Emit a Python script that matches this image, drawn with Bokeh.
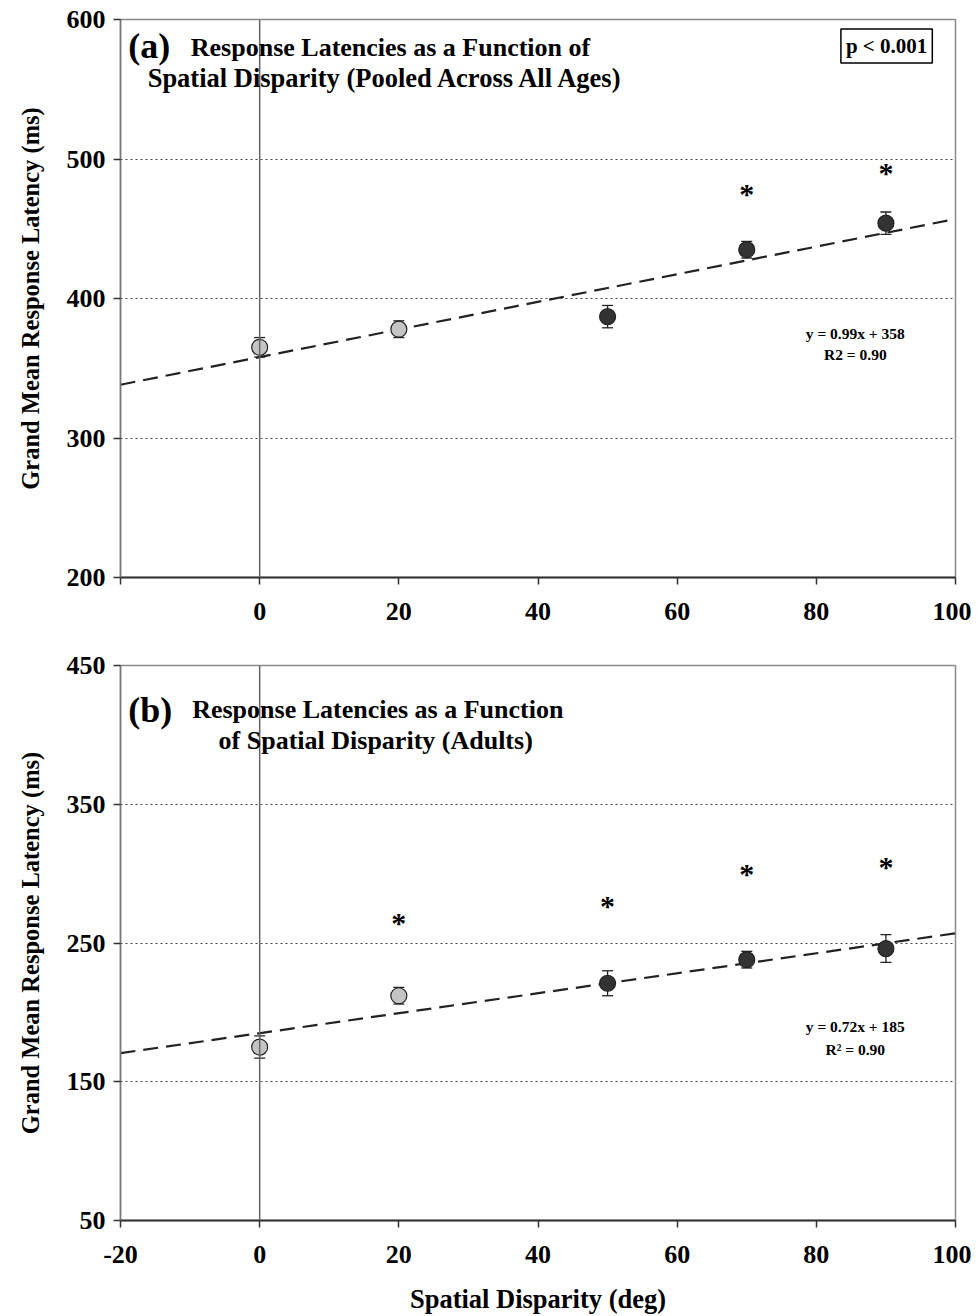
from bokeh.plotting import figure
from bokeh.models import ColumnDataSource, Whisker, Span, Label, FixedTicker, TeeHead
from bokeh.layouts import column
from bokeh.embed import file_html
from bokeh.resources import INLINE
from bokeh.core.properties import value

# ---------------- data ----------------
disparity = [0, 20, 50, 70, 90]

a_latency = [365, 378, 387, 435, 454]
a_err = [7, 6, 8, 6, 8]
a_star_x = [70, 90]
a_star_y = [475, 490]
a_slope, a_intercept = 0.99, 358
a_eq = ["y = 0.99x + 358", "R2 = 0.90"]

b_latency = [175, 212, 221, 238, 246]
b_err = [8, 6, 9, 6, 10]
b_star_x = [20, 50, 70, 90]
b_star_y = [265, 277, 300, 305]
b_slope, b_intercept = 0.72, 185
b_eq = ["y = 0.72x + 185", "R\u00b2 = 0.90"]

x_ticks = [-20, 0, 20, 40, 60, 80, 100]
a_y_ticks = [200, 300, 400, 500, 600]
b_y_ticks = [50, 150, 250, 350, 450]
fit_x = [-20, 100]

# ---------------- style ----------------
FONT = "Liberation Serif"
LIGHT = "#c4c4c4"
DARK = "#333333"
fills = [LIGHT, LIGHT, DARK, DARK, DARK]


def make_panel(lat, err, sx, sy, slope, icpt, yticks, height, top, bottom,
               show_first_x, xlabel):
    ymin, ymax = yticks[0], yticks[-1]
    p = figure(frame_width=835, frame_height=height - top - bottom,
               x_range=(x_ticks[0], x_ticks[-1]), y_range=(ymin, ymax),
               output_backend="svg", toolbar_location=None,
               min_border_left=120, min_border_right=16,
               min_border_top=top, min_border_bottom=bottom)
    p.background_fill_color = "white"
    p.border_fill_color = "white"
    p.outline_line_color = "#8a8a8a"
    p.outline_line_width = 1.5

    # grid
    p.xgrid.visible = False
    p.ygrid.ticker = FixedTicker(ticks=yticks)
    p.ygrid.grid_line_color = "#444444"
    p.ygrid.grid_line_dash = "2 3"
    p.ygrid.grid_line_width = 1.2

    # axes
    p.xaxis.ticker = FixedTicker(ticks=x_ticks)
    p.yaxis.ticker = FixedTicker(ticks=yticks)
    if show_first_x:
        p.xaxis.major_label_overrides = {x_ticks[0]: str(x_ticks[0])}
    else:
        p.xaxis.major_label_overrides = {x_ticks[0]: ""}
    for ax in (p.xaxis[0], p.yaxis[0]):
        ax.major_label_text_font = FONT
        ax.major_label_text_font_style = "bold"
        ax.major_label_text_font_size = "26px"
        ax.major_label_text_color = "black"
        ax.minor_tick_line_color = None
        ax.major_tick_in = 0
        ax.major_tick_out = 7
        ax.major_tick_line_color = "#333333"
        ax.major_tick_line_width = 1.5
        ax.axis_label_text_font = FONT
        ax.axis_label_text_font_style = "bold"
        ax.axis_label_text_color = "black"
    p.xaxis.axis_line_color = "#333333"
    p.xaxis.axis_line_width = 2
    p.yaxis.axis_line_color = "#777777"
    p.yaxis.axis_line_width = 1.5
    p.xaxis.major_label_standoff = 18
    p.yaxis.major_label_standoff = 8
    p.yaxis.axis_label = "Grand Mean Response Latency (ms)"
    p.yaxis.axis_label_text_font_size = "24.5px"
    p.yaxis.axis_label_standoff = 20
    if xlabel:
        p.xaxis.axis_label = xlabel
        p.xaxis.axis_label_text_font_size = "26.5px"
        p.xaxis.axis_label_standoff = 18

    # vertical line at x = 0
    p.add_layout(Span(location=0, dimension="height", line_color="#666666",
                      line_width=1.5))

    # fitted trend line
    fit_y = [slope * x + icpt for x in fit_x]
    p.line(fit_x, fit_y, line_color="#222222", line_width=2.2, line_dash="15 8")

    # error bars and points
    src = ColumnDataSource(dict(x=disparity, y=lat,
                                lo=[v - e for v, e in zip(lat, err)],
                                hi=[v + e for v, e in zip(lat, err)],
                                fill=fills))
    w = Whisker(source=src, base="x", lower="lo", upper="hi",
                line_color="#222222", line_width=1.3,
                upper_head=TeeHead(size=11, line_color="#222222", line_width=1.3),
                lower_head=TeeHead(size=11, line_color="#222222", line_width=1.3))
    p.add_layout(w)
    p.scatter("x", "y", source=src, size=16, fill_color="fill",
              line_color="#222222", line_width=1.2)

    # significance asterisks
    p.text(sx, sy, text=["*"] * len(sx), text_font=value(FONT),
           text_font_style="bold", text_font_size="30px",
           text_align="center", text_baseline="middle", text_color="black")
    return p


def add_texts(p, eq, eq_pos, titles):
    (ex, ey1, ey2) = eq_pos
    for txt, ey in ((eq[0], ey1), (eq[1], ey2)):
        p.add_layout(Label(x=ex, y=ey, text=txt, text_font=FONT,
                           text_font_style="bold", text_font_size="15.5px",
                           text_color="black",
                           text_align="center", text_baseline="middle"))
    for (tx, ty, txt, size) in titles:
        p.add_layout(Label(x=tx, y=ty, text=txt, text_font=FONT,
                           text_font_style="bold", text_font_size=size,
                           text_color="black",
                           text_align="left", text_baseline="middle"))


pa = make_panel(a_latency, a_err, a_star_x, a_star_y, a_slope, a_intercept,
                a_y_ticks, 643, 19, 66, False, None)
add_texts(pa, a_eq, (85.6, 375, 360),
          [(-18.9, 581, "(a)", "36px"),
           (-9.9, 580, "Response Latencies as a Function of", "26px"),
           (-16.1, 558, "Spatial Disparity (Pooled Across All Ages)", "26.5px")])
pa.add_layout(Label(x=90.1, y=581, text="p < 0.001", text_font=FONT,
                    text_font_style="bold", text_font_size="21px",
                    text_color="black",
                    text_align="center", text_baseline="middle",
                    border_line_color="black", border_line_width=1.5,
                    background_fill_color="white", padding=5))

pb = make_panel(b_latency, b_err, b_star_x, b_star_y, b_slope, b_intercept,
                b_y_ticks, 669, 22, 92, True, "Spatial Disparity (deg)")
add_texts(pb, b_eq, (85.6, 190, 173),
          [(-18.9, 418, "(b)", "36px"),
           (-9.7, 418, "Response Latencies as a Function", "26px"),
           (-5.9, 396, "of Spatial Disparity (Adults)", "26px")])

layout = column(pa, pb, spacing=0)
open("out.html", "w").write(file_html(layout, INLINE))
